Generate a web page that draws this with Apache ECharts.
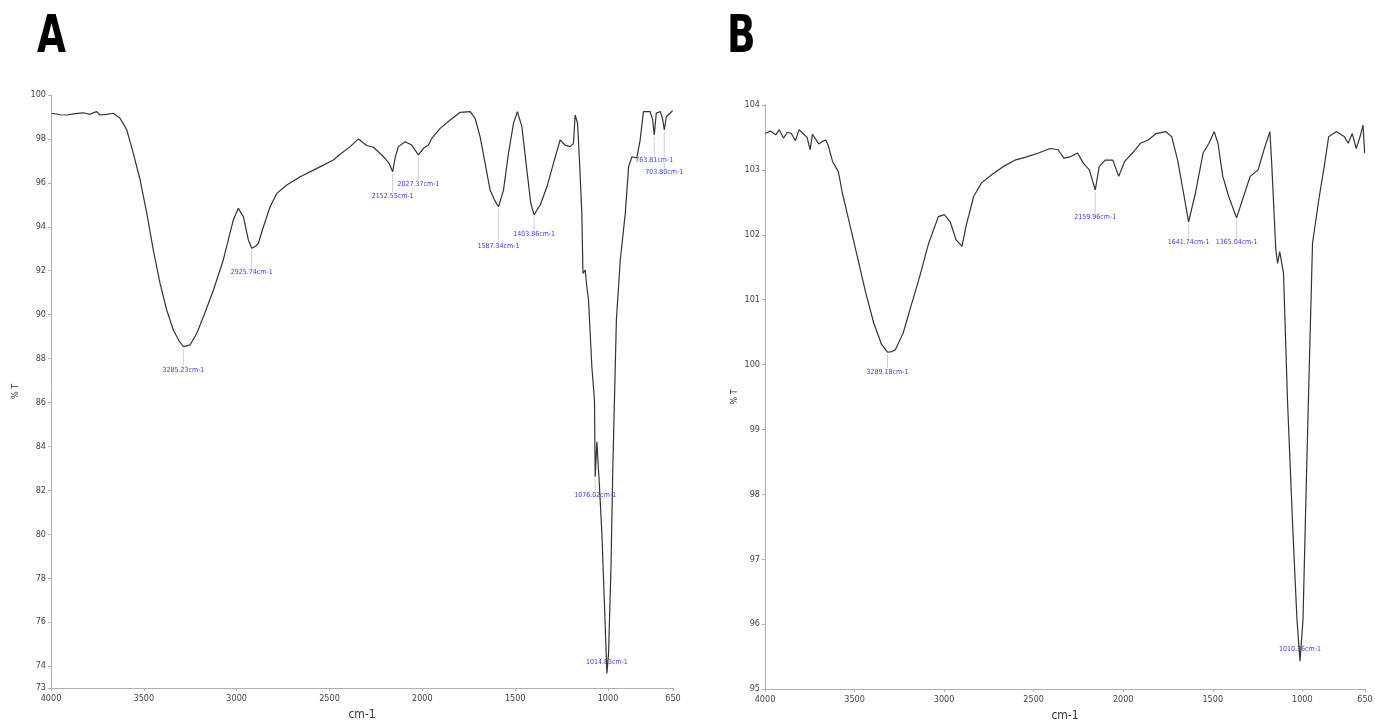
<!DOCTYPE html>
<html>
<head>
<meta charset="utf-8">
<script src="https://cdn.jsdelivr.net/npm/echarts@6/dist/echarts.min.js"></script>
<style>
  html, body { margin: 0; padding: 0; background: #fff; }
  #chart { width: 1375px; height: 722px; }
</style>
</head>
<body>
<div id="chart"></div>
<script>
// spectrum A (wavenumber cm-1, %T)
var wnA = [3996, 3950, 3915, 3870, 3826, 3790, 3770, 3754, 3745, 3736, 3700, 3664, 3628, 3592, 3557, 3520, 3484, 3449, 3413, 3377,
    3341, 3310, 3287, 3251, 3215, 3179, 3125, 3072, 3018, 2991, 2964, 2937, 2919, 2900, 2883, 2856, 2820, 2784, 2730, 2658,
    2568, 2479, 2443, 2389, 2344, 2300, 2263, 2209, 2180, 2160, 2145, 2129, 2093, 2057, 2040, 2021, 1994, 1967, 1949, 1904,
    1850, 1796, 1742, 1716, 1689, 1662, 1635, 1610, 1590, 1563, 1536, 1509, 1488, 1464, 1437, 1416, 1398, 1380, 1365, 1329,
    1294, 1258, 1231, 1204, 1186, 1177, 1164, 1153, 1141, 1135, 1123, 1114, 1105, 1087, 1073, 1069, 1060, 1051, 1046, 1033,
    1020, 1006, 997, 984, 974, 961, 955, 934, 907, 889, 871, 845, 827, 809, 773, 760, 751, 740, 718, 706,
    697, 686, 665, 652];
var tA = [99.17, 99.10, 99.09, 99.15, 99.19, 99.12, 99.20, 99.24, 99.15, 99.09, 99.12, 99.17, 98.94, 98.41, 97.35, 96.13, 94.61, 92.94, 91.43, 90.21,
    89.30, 88.80, 88.54, 88.62, 89.15, 89.90, 91.12, 92.49, 94.31, 94.84, 94.46, 93.40, 93.02, 93.10, 93.25, 94.00, 94.91, 95.52, 95.90, 96.28,
    96.66, 97.04, 97.30, 97.65, 98.00, 97.70, 97.62, 97.19, 96.90, 96.51, 97.20, 97.65, 97.87, 97.72, 97.50, 97.27, 97.57, 97.72, 98.03, 98.48,
    98.86, 99.21, 99.24, 98.94, 98.10, 96.89, 95.67, 95.20, 94.91, 95.67, 97.35, 98.71, 99.24, 98.56, 96.58, 95.07, 94.54, 94.80, 94.99, 95.82,
    96.89, 97.95, 97.72, 97.65, 97.80, 99.09, 98.71, 96.89, 94.61, 91.88, 92.03, 91.27, 90.66, 87.63, 86.11, 82.62, 84.21, 84.14, 82.16, 80.04,
    77.00, 73.66, 74.58, 78.52, 83.07, 87.63, 89.75, 92.49, 94.61, 96.74, 97.19, 97.13, 97.95, 99.24, 99.24, 98.90, 98.18, 99.18, 99.24, 98.90,
    98.41, 99.01, 99.18, 99.29];

// spectrum B
var wnB = [3998, 3970, 3940, 3920, 3897, 3875, 3853, 3830, 3810, 3787, 3765, 3748, 3735, 3721, 3700, 3678, 3660, 3645, 3623, 3590,
    3568, 3524, 3481, 3437, 3393, 3349, 3316, 3290, 3272, 3228, 3185, 3141, 3086, 3032, 2999, 2966, 2933, 2900, 2878, 2835,
    2791, 2736, 2671, 2605, 2539, 2473, 2408, 2364, 2331, 2298, 2255, 2222, 2189, 2156, 2134, 2101, 2058, 2025, 1992, 1948,
    1904, 1860, 1816, 1762, 1729, 1696, 1663, 1635, 1597, 1554, 1521, 1492, 1471, 1444, 1411, 1367, 1334, 1291, 1247, 1214,
    1181, 1170, 1148, 1138, 1126, 1105, 1083, 1053, 1030, 1013, 996, 980, 963, 943, 908, 875, 853, 809, 765, 744,
    721, 699, 678, 661, 652];
var tB = [103.56, 103.60, 103.54, 103.62, 103.49, 103.58, 103.56, 103.45, 103.62, 103.56, 103.50, 103.31, 103.55, 103.49, 103.40, 103.44, 103.46, 103.36, 103.13, 102.97,
    102.64, 102.13, 101.62, 101.10, 100.64, 100.31, 100.19, 100.20, 100.23, 100.49, 100.90, 101.31, 101.87, 102.28, 102.31, 102.20, 101.92, 101.82, 102.13, 102.59,
    102.80, 102.92, 103.05, 103.15, 103.20, 103.26, 103.33, 103.31, 103.18, 103.20, 103.26, 103.10, 103.00, 102.69, 103.05, 103.15, 103.15, 102.90, 103.13, 103.26,
    103.41, 103.46, 103.56, 103.59, 103.51, 103.15, 102.64, 102.20, 102.64, 103.26, 103.41, 103.59, 103.41, 102.90, 102.59, 102.26, 102.54, 102.90, 103.00, 103.31,
    103.59, 103.05, 101.77, 101.56, 101.74, 101.41, 99.46, 97.46, 96.08, 95.43, 96.08, 97.92, 99.77, 101.87, 102.54, 103.10, 103.51, 103.59, 103.51, 103.41,
    103.56, 103.33, 103.51, 103.69, 103.26];

// peak marks
var peakWnA = [3287, 2919, 2160, 2021, 1590, 1398, 1069, 1006, 751, 697];
var peakTA = [88.54, 93.02, 96.51, 97.27, 94.91, 94.54, 82.62, 73.66, 98.18, 98.41];
var peakTextA = ['3285.23cm-1', '2925.74cm-1', '2152.55cm-1', '2027.37cm-1', '1587.34cm-1', '1403.86cm-1',
    '1076.02cm-1', '1014.83cm-1', '763.81cm-1', '703.80cm-1'];
var peakWnB = [3316, 2156, 1635, 1367, 1013];
var peakTB = [100.19, 102.69, 102.20, 102.26, 95.43];
var peakTextB = ['3289.18cm-1', '2159.96cm-1', '1641.74cm-1', '1365.04cm-1', '1010.36cm-1'];

// x ticks and y ticks
var xTicks = [4000, 3500, 3000, 2500, 2000, 1500, 1000, 650];
var yTicksA = [73, 74, 76, 78, 80, 82, 84, 86, 88, 90, 92, 94, 96, 98, 100];

// label drop below the peak, px (layout only)
var dropA = [23, 24, 25, 29, 39, 19, 18, -11, 25, 42];
var dropB = [20, 27, 20, 24, -12];

var FONT = "'Liberation Sans Narrow', 'DejaVu Sans Condensed', 'Liberation Sans', sans-serif";

function zip(a, b) {
    return a.map(function(v, i) { return [v, b[i]]; });
}

function plain(v) {
    return String(v);
}

function peakSeries(idx, wn, t, texts, drop) {
    return {
        type: 'custom',
        xAxisIndex: idx,
        yAxisIndex: idx,
        clip: false,
        silent: true,
        data: zip(wn, t),
        encode: { x: 0, y: 1 },
        renderItem: function(params, api) {
            var p = api.coord([api.value(0), api.value(1)]);
            var d = drop[params.dataIndex];
            var children = [];
            if (d > 0) {
                children.push({
                    type: 'line',
                    shape: { x1: p[0], y1: p[1] + 2, x2: p[0], y2: p[1] + d - 4 },
                    style: { stroke: '#d0d0d0', lineWidth: 1 }
                });
            }
            children.push({
                type: 'text',
                x: p[0],
                y: p[1] + d,
                style: {
                    text: texts[params.dataIndex],
                    fill: '#3a3af0',
                    font: '7px ' + FONT,
                    align: 'center',
                    verticalAlign: 'middle'
                }
            });
            return { type: 'group', children: children };
        }
    };
}

var axisLineStyle = { lineStyle: { color: '#b0b0b0', width: 1 } };
var tickLabel = { color: '#444', fontSize: 9, fontFamily: FONT, formatter: plain };

function xAxis(idx) {
    return {
        type: 'value',
        gridIndex: idx,
        inverse: true,
        min: 650,
        max: 4000,
        name: 'cm-1',
        nameLocation: 'middle',
        nameGap: 21,
        nameTextStyle: { color: '#333', fontSize: 12, fontFamily: FONT },
        axisLine: axisLineStyle,
        axisTick: { show: true, length: 3, lineStyle: { color: '#b0b0b0' }, customValues: xTicks },
        axisLabel: Object.assign({ margin: 6, customValues: xTicks }, tickLabel),
        splitLine: { show: false }
    };
}

function panelLetter(text, x) {
    return {
        type: 'text',
        x: x,
        y: 12,
        scaleX: 0.8,
        style: {
            text: text,
            fill: '#000',
            font: 'bold 52px ' + FONT,
            align: 'left',
            verticalAlign: 'top'
        }
    };
}

var myChart = echarts.init(document.getElementById('chart'));

var options = {
    backgroundColor: '#fff',
    animation: false,
    graphic: [panelLetter('A', 37), panelLetter('B', 727)],
    grid: [{
        left: 51, right: 702, top: 95, bottom: 34, containLabel: false, outerBoundsMode: 'none'
    }, {
        left: 765, right: 10, top: 105, bottom: 33, containLabel: false, outerBoundsMode: 'none'
    }],
    xAxis: [xAxis(0), xAxis(1)],
    yAxis: [{
        type: 'value',
        gridIndex: 0,
        min: 73,
        max: 100,
        name: '% T',
        nameLocation: 'middle',
        nameRotate: 90,
        nameGap: 31,
        nameTextStyle: { color: '#333', fontSize: 9, fontFamily: FONT },
        axisLine: Object.assign({ show: true }, axisLineStyle),
        axisTick: { show: true, length: 3, lineStyle: { color: '#b0b0b0' }, customValues: yTicksA },
        axisLabel: Object.assign({ margin: 5, customValues: yTicksA }, tickLabel),
        splitLine: { show: false }
    }, {
        type: 'value',
        gridIndex: 1,
        min: 95,
        max: 104,
        interval: 1,
        name: '% T',
        nameLocation: 'middle',
        nameRotate: 90,
        nameGap: 26,
        nameTextStyle: { color: '#333', fontSize: 9, fontFamily: FONT },
        axisLine: Object.assign({ show: true }, axisLineStyle),
        axisTick: { show: true, length: 3, lineStyle: { color: '#b0b0b0' } },
        axisLabel: Object.assign({ margin: 5 }, tickLabel),
        splitLine: { show: false }
    }],
    series: [{
        name: 'A',
        type: 'line',
        xAxisIndex: 0,
        yAxisIndex: 0,
        showSymbol: false,
        lineStyle: { color: '#333', width: 1.2 },
        data: zip(wnA, tA)
    }, {
        name: 'B',
        type: 'line',
        xAxisIndex: 1,
        yAxisIndex: 1,
        showSymbol: false,
        lineStyle: { color: '#333', width: 1.2 },
        data: zip(wnB, tB)
    },
    peakSeries(0, peakWnA, peakTA, peakTextA, dropA),
    peakSeries(1, peakWnB, peakTB, peakTextB, dropB)]
};
myChart.setOption(options);
</script>
</body>
</html>
